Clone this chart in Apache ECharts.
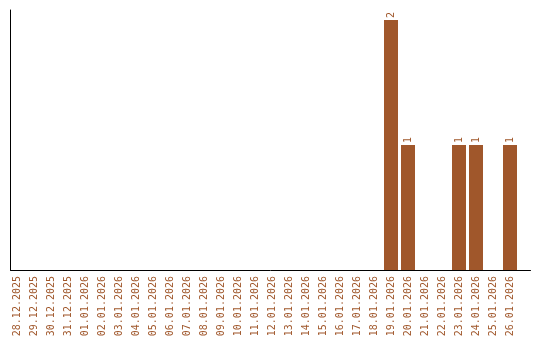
<!DOCTYPE html>
<html><head><meta charset="utf-8">
<script src="https://cdn.jsdelivr.net/npm/echarts@6/dist/echarts.min.js"></script>
<style>html,body{margin:0;padding:0;background:#fff}#c{width:540px;height:340px}</style>
</head><body><div id="c"></div>
<script>
const categories = ["28.12.2025","29.12.2025","30.12.2025","31.12.2025","01.01.2026","02.01.2026","03.01.2026","04.01.2026","05.01.2026","06.01.2026","07.01.2026","08.01.2026","09.01.2026","10.01.2026","11.01.2026","12.01.2026","13.01.2026","14.01.2026","15.01.2026","16.01.2026","17.01.2026","18.01.2026","19.01.2026","20.01.2026","21.01.2026","22.01.2026","23.01.2026","24.01.2026","25.01.2026","26.01.2026"];
const counts = [0,0,0,0,0,0,0,0,0,0,0,0,0,0,0,0,0,0,0,0,0,0,2,1,0,0,1,1,0,1];
const color = '#a0572b';
const font = '"DejaVu Sans Mono", monospace';
const chart = echarts.init(document.getElementById('c'), null, {renderer:'canvas'});
chart.setOption({
  animation:false,
  grid:[
    {left:10.5, right:9.5, top:10, bottom:70},
    {left:8.5, width:510, top:20, bottom:70}
  ],
  xAxis:[
    {gridIndex:0, type:'value', min:0, max:1, axisLine:{show:true, onZero:false, lineStyle:{color:'#000', width:1}}, axisTick:{show:false}, axisLabel:{show:false}, splitLine:{show:false}},
    {gridIndex:1, type:'category', data:categories, axisLine:{show:false}, axisTick:{show:false},
     axisLabel:{rotate:90, interval:0, color:color, fontFamily:font, fontSize:10, margin:6}}
  ],
  yAxis:[
    {gridIndex:0, type:'value', min:0, max:1, axisLine:{show:true, lineStyle:{color:'#000', width:1}}, axisTick:{show:false}, axisLabel:{show:false}, splitLine:{show:false}},
    {gridIndex:1, type:'value', min:0, max:2, show:false}
  ],
  series:[{
    type:'bar', xAxisIndex:1, yAxisIndex:1, data:counts, barWidth:14,
    itemStyle:{color:color},
    label:{show:true, position:'top', rotate:90, align:'left', verticalAlign:'middle', distance:2,
      color:color, fontFamily:font, fontSize:10,
      formatter: p => p.value > 0 ? String(p.value) : ''}
  }]
});
</script></body></html>
